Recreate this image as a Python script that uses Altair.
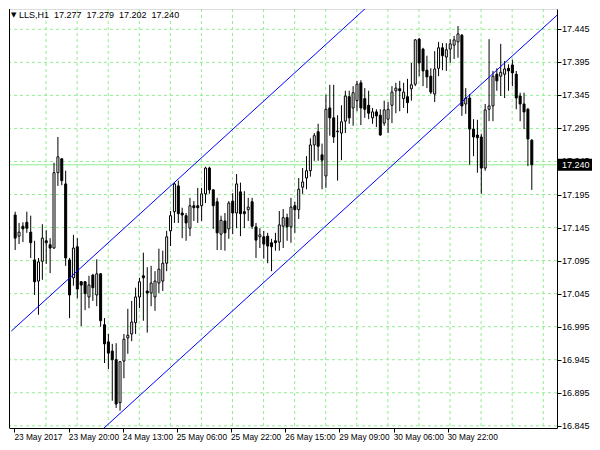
import altair as alt
import pandas as pd

# ---- data (LLS, H1) ----
bar_index = list(range(134))
open_ = [17.164, 17.132, 17.147, 17.153, 17.138, 17.096, 17.064, 17.094, 17.125, 17.119,
         17.114, 17.228, 17.249, 17.211, 17.096, 17.069, 17.116, 17.063, 17.063, 17.040,
         17.073, 17.043, 17.075, 16.998, 16.972, 16.958, 16.945, 16.880, 16.943, 16.978,
         16.984, 17.001, 17.040, 17.072, 17.049, 17.046, 17.040, 17.061, 17.064, 17.091,
         17.140, 17.169, 17.208, 17.167, 17.163, 17.144, 17.178, 17.178, 17.178, 17.196,
         17.235, 17.202, 17.184, 17.135, 17.155, 17.143, 17.185, 17.167, 17.199, 17.169,
         17.172, 17.184, 17.146, 17.131, 17.131, 17.132, 17.122, 17.125, 17.123, 17.147,
         17.160, 17.146, 17.178, 17.172, 17.206, 17.220, 17.231, 17.270, 17.290, 17.255,
         17.223, 17.326, 17.311, 17.290, 17.288, 17.306, 17.343, 17.326, 17.337, 17.364,
         17.340, 17.330, 17.311, 17.320, 17.315, 17.303, 17.309, 17.330, 17.352, 17.355,
         17.340, 17.343, 17.355, 17.362, 17.430, 17.415, 17.383, 17.374, 17.347, 17.386,
         17.417, 17.403, 17.415, 17.421, 17.426, 17.436, 17.332, 17.341, 17.294, 17.285,
         17.282, 17.235, 17.324, 17.329, 17.377, 17.374, 17.377, 17.386, 17.391, 17.377,
         17.344, 17.332, 17.324, 17.277]
high = [17.169, 17.152, 17.153, 17.169, 17.163, 17.125, 17.099, 17.150, 17.141, 17.129,
        17.243, 17.282, 17.250, 17.231, 17.099, 17.134, 17.129, 17.064, 17.064, 17.072,
        17.075, 17.097, 17.076, 17.008, 16.984, 16.969, 16.970, 16.943, 16.984, 17.022,
        17.034, 17.054, 17.069, 17.107, 17.085, 17.087, 17.079, 17.113, 17.110, 17.140,
        17.170, 17.213, 17.216, 17.175, 17.167, 17.190, 17.185, 17.205, 17.205, 17.237,
        17.237, 17.203, 17.190, 17.163, 17.167, 17.185, 17.197, 17.226, 17.213, 17.200,
        17.190, 17.190, 17.152, 17.144, 17.140, 17.137, 17.128, 17.137, 17.170, 17.173,
        17.166, 17.190, 17.184, 17.220, 17.235, 17.253, 17.280, 17.288, 17.302, 17.272,
        17.346, 17.361, 17.361, 17.315, 17.330, 17.352, 17.352, 17.359, 17.367, 17.368,
        17.356, 17.352, 17.326, 17.324, 17.324, 17.337, 17.335, 17.359, 17.364, 17.367,
        17.364, 17.370, 17.394, 17.430, 17.432, 17.417, 17.405, 17.386, 17.412, 17.426,
        17.424, 17.424, 17.430, 17.435, 17.450, 17.438, 17.356, 17.347, 17.309, 17.308,
        17.287, 17.332, 17.430, 17.382, 17.386, 17.423, 17.397, 17.392, 17.399, 17.382,
        17.349, 17.349, 17.326, 17.279]
low = [17.111, 17.120, 17.123, 17.137, 17.099, 17.043, 17.013, 17.066, 17.090, 17.076,
       17.113, 17.208, 17.209, 17.087, 17.008, 17.057, 17.038, 16.996, 17.020, 17.023,
       17.034, 17.026, 16.995, 16.940, 16.931, 16.883, 16.872, 16.868, 16.917, 16.954,
       16.973, 16.984, 17.023, 17.004, 16.986, 17.026, 17.019, 17.046, 17.049, 17.079,
       17.117, 17.152, 17.152, 17.129, 17.125, 17.132, 17.155, 17.152, 17.155, 17.182,
       17.196, 17.143, 17.111, 17.111, 17.110, 17.128, 17.135, 17.144, 17.132, 17.144,
       17.155, 17.143, 17.099, 17.114, 17.098, 17.091, 17.079, 17.110, 17.110, 17.114,
       17.125, 17.122, 17.137, 17.158, 17.196, 17.203, 17.222, 17.246, 17.246, 17.203,
       17.205, 17.284, 17.273, 17.216, 17.247, 17.288, 17.302, 17.299, 17.321, 17.300,
       17.311, 17.309, 17.302, 17.297, 17.284, 17.299, 17.288, 17.303, 17.318, 17.321,
       17.326, 17.318, 17.337, 17.359, 17.374, 17.359, 17.356, 17.347, 17.335, 17.374,
       17.383, 17.382, 17.394, 17.400, 17.402, 17.314, 17.317, 17.240, 17.253, 17.228,
       17.196, 17.231, 17.306, 17.306, 17.352, 17.344, 17.341, 17.352, 17.359, 17.324,
       17.306, 17.294, 17.238, 17.202]
close = [17.129, 17.138, 17.143, 17.144, 17.122, 17.063, 17.093, 17.129, 17.122, 17.114,
         17.228, 17.252, 17.216, 17.099, 17.043, 17.114, 17.052, 17.058, 17.045, 17.058,
         17.054, 17.075, 17.004, 16.969, 16.955, 16.945, 16.878, 16.942, 16.976, 16.982,
         17.002, 17.040, 17.063, 17.069, 17.046, 17.061, 17.064, 17.082, 17.091, 17.131,
         17.163, 17.211, 17.166, 17.164, 17.152, 17.178, 17.175, 17.175, 17.196, 17.235,
         17.202, 17.178, 17.137, 17.156, 17.137, 17.182, 17.167, 17.211, 17.166, 17.166,
         17.176, 17.147, 17.126, 17.134, 17.120, 17.117, 17.116, 17.122, 17.149, 17.160,
         17.146, 17.176, 17.172, 17.203, 17.214, 17.231, 17.270, 17.284, 17.268, 17.247,
         17.324, 17.311, 17.282, 17.291, 17.305, 17.344, 17.311, 17.349, 17.362, 17.326,
         17.324, 17.318, 17.320, 17.314, 17.285, 17.323, 17.324, 17.350, 17.356, 17.352,
         17.350, 17.334, 17.361, 17.429, 17.394, 17.382, 17.373, 17.350, 17.385, 17.417,
         17.405, 17.414, 17.423, 17.429, 17.438, 17.329, 17.341, 17.294, 17.282, 17.281,
         17.235, 17.323, 17.329, 17.374, 17.367, 17.380, 17.385, 17.382, 17.379, 17.341,
         17.332, 17.320, 17.279, 17.240]

time_tick_pos = [-0.2, 13.8, 27.7, 41.6, 55.55, 69.55, 83.45, 97.45, 111.3]
time_tick_labels = ["23 May 2017", "23 May 20:00", "24 May 13:00", "25 May 06:00",
                    "25 May 22:00", "26 May 15:00", "29 May 09:00", "30 May 06:00",
                    "30 May 22:00"]
price_ticks = [16.845, 16.895, 16.945, 16.995, 17.045, 17.095, 17.145, 17.195,
               17.245, 17.295, 17.345, 17.395, 17.445]
vgrid_pos = [7.95, 15.95, 23.95, 31.95, 39.95, 47.95, 55.95, 63.95, 71.95, 79.95,
             87.95, 95.95, 103.95, 111.95, 119.95, 127.95, 135.95]
channel_upper_x = [-1, 140]
channel_upper_y = [16.9883, 17.7435]
channel_lower_x = [-1, 140]
channel_lower_y = [16.7138, 17.4690]
bid_price = 17.240
header_symbol = "▼"
header_parts = ["LLS,H1", "17.277", "17.279", "17.202", "17.240"]

# ---- tables ----
NB = "\u00a0"
header_text = (NB * 2).join(header_parts)
candles = pd.DataFrame({"i": bar_index, "open": open_, "high": high,
                        "low": low, "close": close})
candles["dir"] = ["up" if c >= o else "down" for o, c in zip(open_, close)]
grid_h = pd.DataFrame({"p": price_ticks, "t": ["%.3f" % v for v in price_ticks]})
grid_v = pd.DataFrame({"i": vgrid_pos})
time_df = pd.DataFrame({"i": time_tick_pos, "t": time_tick_labels})
channels = pd.DataFrame({
    "i": channel_upper_x + channel_lower_x,
    "p": channel_upper_y + channel_lower_y,
    "line": ["upper", "upper", "lower", "lower"],
})

W, H = 548, 419
FONT = "Liberation Sans"
FS = 9
GRID = "#90EE90"

xscale = alt.Scale(domain=[-0.3, 138.2], nice=False, zero=False)
yscale = alt.Scale(domain=[16.8417, 17.4757], nice=False, zero=False)

x_axis = alt.Axis(values=time_tick_pos, labels=False, orient="bottom",
                  tickColor="black", tickSize=4, domainColor="black", grid=False,
                  title=None)
y_axis = alt.Axis(values=price_ticks, labels=False, orient="right",
                  tickColor="black", tickSize=4, domainColor="black", grid=False,
                  title=None)

X = lambda f: alt.X(f, scale=xscale, axis=x_axis)
Y = lambda f: alt.Y(f, scale=yscale, axis=y_axis)

base = alt.Chart(candles)

hgrid = alt.Chart(grid_h).mark_rule(color=GRID, strokeDash=[3, 3], strokeWidth=1).encode(
    y=Y("p:Q"))
vgrid = alt.Chart(grid_v).mark_rule(color=GRID, strokeDash=[3, 3], strokeWidth=1).encode(
    x=X("i:Q"))
bidline = alt.Chart(pd.DataFrame({"p": [bid_price]})).mark_rule(
    color=GRID, strokeWidth=1).encode(y=Y("p:Q"))
left_border = alt.Chart(pd.DataFrame({"p": [bid_price]})).mark_rule(
    color="black", strokeWidth=1).encode(x=alt.value(0.5), y=alt.value(0), y2=alt.value(H))

wicks = base.mark_rule(color="black", strokeWidth=1).encode(
    x=X("i:Q"), y=Y("low:Q"), y2="high:Q")
bodies = base.mark_bar(size=2, stroke="black", strokeWidth=1).encode(
    x=X("i:Q"), y=Y("open:Q"), y2="close:Q",
    color=alt.Color("dir:N", scale=alt.Scale(domain=["up", "down"],
                                             range=["white", "black"]), legend=None))
chan = alt.Chart(channels).mark_line(color="#0000FF", strokeWidth=1, clip=True).encode(
    x=X("i:Q"), y=Y("p:Q"), detail="line:N")

# price labels on the right, time labels below
price_lbl = alt.Chart(grid_h).mark_text(
    align="left", baseline="middle", font=FONT, fontSize=FS, color="black").encode(
    x=alt.value(W + 5), y=Y("p:Q"), text="t:N")
time_lbl = alt.Chart(time_df).mark_text(
    align="left", baseline="top", font=FONT, fontSize=8.3, color="black").encode(
    x=X("i:Q"), y=alt.value(H + 5), text="t:N")

label_df = pd.DataFrame({"p": [bid_price], "t": ["%.3f" % bid_price]})
price_box = alt.Chart(label_df).mark_rect(color="black", yOffset=-6, y2Offset=6).encode(
    x=alt.value(W + 1), x2=alt.value(W + 35), y=Y("p:Q"), y2="p:Q")
price_txt = alt.Chart(label_df).mark_text(
    color="white", align="left", baseline="middle", font=FONT, fontSize=FS).encode(
    x=alt.value(W + 5), y=Y("p:Q"), text="t:N")
hdr_df = pd.DataFrame({"s": [header_symbol], "t": [header_text]})
header_sym = alt.Chart(hdr_df).mark_text(
    align="left", baseline="middle", font="DejaVu Sans", fontSize=7, color="black").encode(
    x=alt.value(2), y=alt.value(6), text="s:N")
header = alt.Chart(hdr_df).mark_text(
    align="left", baseline="middle", font=FONT, fontSize=FS, color="black").encode(
    x=alt.value(10), y=alt.value(6), text="t:N")

chart = alt.layer(hgrid, vgrid, bidline, left_border, wicks, bodies, chan,
                  price_lbl, time_lbl, price_box, price_txt, header_sym, header).properties(
    width=W, height=H, padding={"left": 0, "top": 0, "right": 0, "bottom": 0}
).configure_view(stroke=None).configure(background="white")

chart.save("out.html", embed_options={"renderer": "svg", "actions": False})
